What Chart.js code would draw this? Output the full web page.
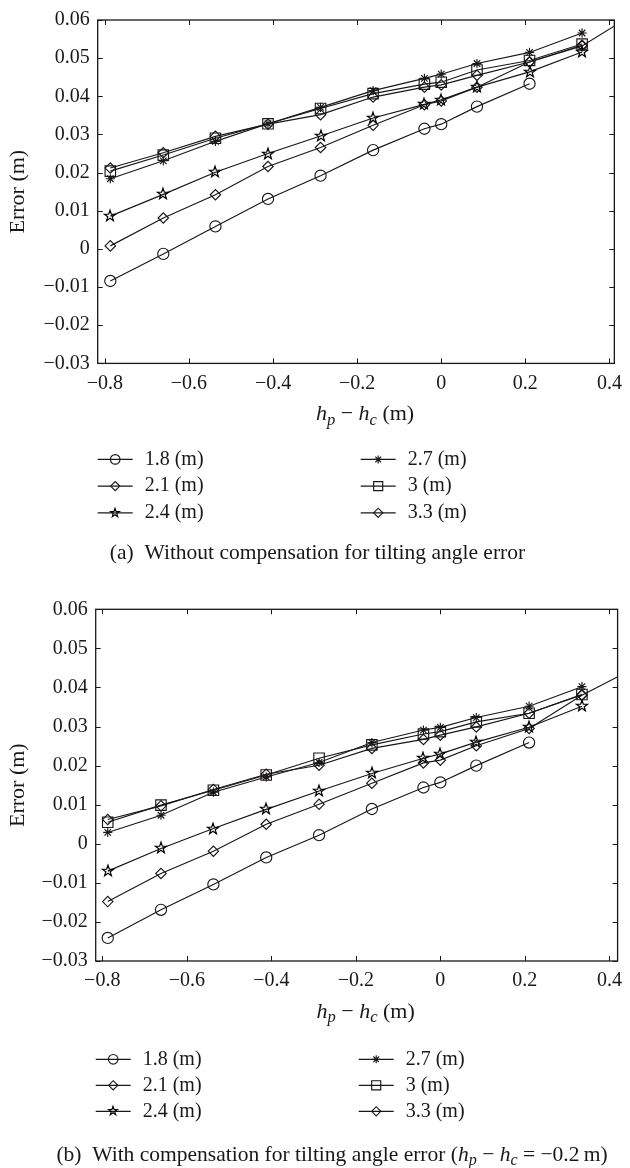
<!DOCTYPE html>
<html>
<head>
<meta charset="utf-8">
<script src="https://cdn.jsdelivr.net/npm/chart.js@4.4.1/dist/chart.umd.min.js"></script>
<style>
  body { margin: 0; background: #fff; width: 630px; height: 1168px; overflow: hidden; }
  canvas { position: absolute; left: 0; }
</style>
</head>
<body>
<canvas id="chart-a" width="630" height="575" style="top:0"></canvas>
<canvas id="chart-b" width="630" height="593" style="top:575px"></canvas>
<script>
// valores de h_p - h_c (m) comunes a todas las series
const hDiff = [-0.787, -0.661, -0.537, -0.412, -0.287, -0.162, -0.04, 0, 0.085, 0.21, 0.335];
// la serie 2.1 (m) sigue hasta fuera del eje
const hDiff21 = [-0.787, -0.661, -0.537, -0.412, -0.287, -0.162, -0.04, 0, 0.085, 0.21, 0.335, 0.46];

const xTicks = [-0.8, -0.6, -0.4, -0.2, 0, 0.2, 0.4];
const xTickLabels = ['\u22120.8', '\u22120.6', '\u22120.4', '\u22120.2', '0', '0.2', '0.4'];
const yTicks = [-0.03, -0.02, -0.01, 0, 0.01, 0.02, 0.03, 0.04, 0.05, 0.06];
const yTickLabels = ['\u22120.03', '\u22120.02', '\u22120.01', '0', '0.01', '0.02', '0.03', '0.04', '0.05', '0.06'];

const seriesNames = ['1.8 (m)', '2.1 (m)', '2.4 (m)', '2.7 (m)', '3 (m)', '3.3 (m)'];

// (a) sin compensacion del angulo
const errA18 = [-0.0084, -0.0013, 0.0059, 0.0131, 0.0192, 0.0259, 0.0315, 0.0327, 0.0373, 0.0433];
const errA21 = [0.0008, 0.0081, 0.0142, 0.0216, 0.0266, 0.0324, 0.0378, 0.0388, 0.0424, 0.0490, 0.0532, 0.0617];
const errA24 = [0.0086, 0.0143, 0.0201, 0.0250, 0.0296, 0.0343, 0.0379, 0.0391, 0.0424, 0.0464, 0.0516];
const errA27 = [0.0184, 0.0231, 0.0282, 0.0328, 0.0371, 0.0415, 0.0447, 0.0458, 0.0486, 0.0515, 0.0566];
const errA30 = [0.0204, 0.0246, 0.0290, 0.0328, 0.0368, 0.0407, 0.0432, 0.0437, 0.0469, 0.0494, 0.0537];
const errA33 = [0.0212, 0.0252, 0.0295, 0.0327, 0.0352, 0.0398, 0.0424, 0.0430, 0.0455, 0.0490, 0.0534];

// (b) con compensacion (h_p - h_c = -0.2 m)
const errB18 = [-0.0241, -0.0169, -0.0104, -0.0035, 0.0022, 0.0089, 0.0144, 0.0157, 0.0200, 0.0259];
const errB21 = [-0.0148, -0.0076, -0.0019, 0.0050, 0.0101, 0.0155, 0.0207, 0.0214, 0.0251, 0.0295, 0.0380, 0.0450];
const errB24 = [-0.0070, -0.0012, 0.0039, 0.0088, 0.0135, 0.0180, 0.0219, 0.0230, 0.0260, 0.0298, 0.0352];
const errB27 = [0.0029, 0.0073, 0.0132, 0.0171, 0.0208, 0.0259, 0.0291, 0.0298, 0.0323, 0.0352, 0.0402];
const errB30 = [0.0055, 0.0099, 0.0137, 0.0176, 0.0219, 0.0253, 0.0281, 0.0287, 0.0312, 0.0334, 0.0382];
const errB33 = [0.0062, 0.0097, 0.0139, 0.0178, 0.0201, 0.0244, 0.0267, 0.0278, 0.0299, 0.0334, 0.0381];

const ink = '#1a1718';
const serif = '"Liberation Serif", "Times New Roman", serif';
const tickSize = 20;
const titleSize = 22;
const captionSize = 21.5;

// estrella de cinco puntas como imagen (Chart.js no la trae)
function pentagram(r) {
    const c = document.createElement('canvas');
    const s = Math.ceil(r * 2 + 4);
    c.width = s; c.height = s;
    const g = c.getContext('2d');
    g.strokeStyle = '#000';
    g.lineWidth = 1.2;
    g.beginPath();
    for (let k = 0; k < 10; k++) {
        const rad = k % 2 === 0 ? r : r * 0.4;
        const a = -Math.PI / 2 + k * Math.PI / 5;
        const px = s / 2 + rad * Math.cos(a), py = s / 2 + rad * Math.sin(a);
        k === 0 ? g.moveTo(px, py) : g.lineTo(px, py);
    }
    g.closePath();
    g.stroke();
    return c;
}

const markers = [
    { style: 'circle', radius: 5.6, legend: 4.8 },
    { style: 'rectRot', radius: 5.2, legend: 4.6 },
    { style: pentagram(5.8), radius: 6, legendStyle: pentagram(4.6) },
    { style: 'star', radius: 4.6, legend: 4 },
    { style: 'rect', radius: 7.4, legend: 6.4 },
    { style: 'rectRot', radius: 5.2, legend: 4.6 }
];

//texto con cursivas y subindices
function drawRich(ctx, parts, x, y, size) {
    const font = p => `${p.it ? 'italic ' : ''}${p.sub ? size * 0.75 : size}px ${serif}`;
    let w = 0;
    parts.forEach(p => { ctx.font = font(p); w += ctx.measureText(p.t).width; });
    let cx = x - w / 2;
    ctx.textBaseline = 'middle';
    ctx.textAlign = 'left';
    parts.forEach(p => {
        ctx.font = font(p);
        ctx.fillText(p.t, cx, p.sub ? y + size * 0.27 : y);
        cx += ctx.measureText(p.t).width;
    });
}

const hLabel = [
    { t: 'h', it: 1 }, { t: 'p', it: 1, sub: 1 }, { t: ' \u2212 ' },
    { t: 'h', it: 1 }, { t: 'c', it: 1, sub: 1 }, { t: ' (m)' }
];

function makeChart(canvasId, series, frame) {
    const xs = [hDiff, hDiff21, hDiff, hDiff, hDiff, hDiff];
    const datasets = series.map((values, i) => ({
        label: seriesNames[i],
        data: values.map((y, j) => ({ x: xs[i][j], y })),
        borderColor: ink,
        borderWidth: 1.15,
        backgroundColor: 'rgba(0,0,0,0)',
        pointStyle: markers[i].style,
        pointRadius: markers[i].radius,
        pointBorderWidth: 1.15,
        pointBorderColor: ink,
        pointBackgroundColor: 'rgba(0,0,0,0)',
        tension: 0
    }));

    // caja, marcas interiores, titulo del eje x, leyenda y pie
    const figure = {
        id: 'figure',
        beforeDatasetsDraw(chart) {
            // la estrella en imagen se ve borrosa si se suaviza
            chart.ctx.imageSmoothingEnabled = false;
        },
        afterDatasetsDraw(chart) {
            const { ctx, chartArea: a, scales: { x, y } } = chart;
            ctx.imageSmoothingEnabled = true;
            ctx.save();
            ctx.strokeStyle = ink;
            ctx.lineWidth = 1.3;
            ctx.strokeRect(a.left, a.top, a.right - a.left, a.bottom - a.top);
            ctx.lineWidth = 1;
            ctx.beginPath();
            xTicks.forEach(v => {
                const px = Math.round(x.getPixelForValue(v)) + 0.5;
                ctx.moveTo(px, a.bottom); ctx.lineTo(px, a.bottom - 5);
                ctx.moveTo(px, a.top); ctx.lineTo(px, a.top + 5);
            });
            yTicks.forEach(v => {
                const py = Math.round(y.getPixelForValue(v)) + 0.5;
                ctx.moveTo(a.left, py); ctx.lineTo(a.left + 5, py);
                ctx.moveTo(a.right, py); ctx.lineTo(a.right - 5, py);
            });
            ctx.stroke();
            ctx.restore();
        },
        afterDraw(chart) {
            const { ctx, chartArea: a } = chart;
            ctx.save();
            ctx.fillStyle = ink;
            drawRich(ctx, hLabel, (a.left + a.right) / 2 + 9, a.bottom + 51, titleSize);

            chart.data.datasets.forEach((ds, i) => {
                const col = i < 3 ? 0 : 1;
                const row = i % 3;
                const x0 = a.left + col * 263;
                const ly = a.bottom + frame.legendTop + row * frame.legendGap;
                ctx.strokeStyle = ink;
                ctx.lineWidth = 1.15;
                ctx.beginPath();
                ctx.moveTo(x0, ly); ctx.lineTo(x0 + 35, ly);
                ctx.stroke();
                const m = markers[i];
                ctx.fillStyle = 'rgba(0,0,0,0)';
                ctx.imageSmoothingEnabled = false;
                Chart.helpers.drawPoint(ctx, {
                    pointStyle: m.legendStyle || m.style,
                    radius: m.legend || 5,
                    rotation: 0,
                    borderWidth: 1
                }, x0 + 17.5, ly);
                ctx.imageSmoothingEnabled = true;
                ctx.fillStyle = ink;
                ctx.font = `${tickSize}px ${serif}`;
                ctx.textAlign = 'left';
                ctx.textBaseline = 'middle';
                ctx.fillText(ds.label, x0 + 47, ly);
            });

            ctx.fillStyle = ink;
            drawRich(ctx, frame.caption, frame.captionX, frame.captionY, captionSize);
            ctx.restore();
        }
    };

    const tickFont = { family: serif, size: tickSize };

    return new Chart(document.getElementById(canvasId), {
        type: 'line',
        data: { datasets },
        plugins: [figure],
        options: {
            responsive: false,
            animation: false,
            layout: {
                autoPadding: false,
                padding: { top: frame.top, left: 0, right: frame.right, bottom: frame.bottom }
            },
            plugins: { legend: { display: false }, tooltip: { enabled: false } },
            scales: {
                x: {
                    type: 'linear',
                    min: frame.xMin,
                    max: frame.xMax,
                    afterBuildTicks: axis => { axis.ticks = xTicks.map(v => ({ value: v })); },
                    afterFit: axis => { axis.height = 30; },
                    grid: { display: false, drawTicks: false },
                    border: { display: false },
                    ticks: {
                        callback: (v, i) => xTickLabels[i],
                        font: tickFont, color: ink, padding: 8, maxRotation: 0, autoSkip: false
                    }
                },
                y: {
                    min: -0.03,
                    max: 0.06,
                    afterBuildTicks: axis => { axis.ticks = yTicks.map(v => ({ value: v })); },
                    afterFit: axis => { axis.width = frame.left; },
                    grid: { display: false, drawTicks: false },
                    border: { display: false },
                    ticks: {
                        callback: (v, i) => yTickLabels[i],
                        font: tickFont, color: ink, padding: 8, autoSkip: false
                    },
                    title: {
                        display: true, text: 'Error (m)', font: { family: serif, size: titleSize }, color: ink,
                        padding: { top: 5, bottom: 0 }
                    }
                }
            }
        }
    });
}

makeChart('chart-a', [errA18, errA21, errA24, errA27, errA30, errA33], {
    top: 10, left: 97.7, right: 8.3, bottom: 575 - 363.4 - 30,
    xMin: -0.817, xMax: 0.4117,
    legendTop: 96, legendGap: 26.7,
    caption: [{ t: '(a)  Without compensation for tilting angle error' }],
    captionX: 317.5, captionY: 553
});

makeChart('chart-b', [errB18, errB21, errB24, errB27, errB30, errB33], {
    top: 34.3, left: 95.7, right: 6.7, bottom: 593 - 386 - 30,
    xMin: -0.8155, xMax: 0.4194,
    legendTop: 98.3, legendGap: 26,
    caption: [
        { t: '(b)  With compensation for tilting angle error (' },
        { t: 'h', it: 1 }, { t: 'p', it: 1, sub: 1 }, { t: ' \u2212 ' },
        { t: 'h', it: 1 }, { t: 'c', it: 1, sub: 1 }, { t: ' = \u22120.2\u2009m)' }
    ],
    captionX: 332, captionY: 580
});
</script>
</body>
</html>
